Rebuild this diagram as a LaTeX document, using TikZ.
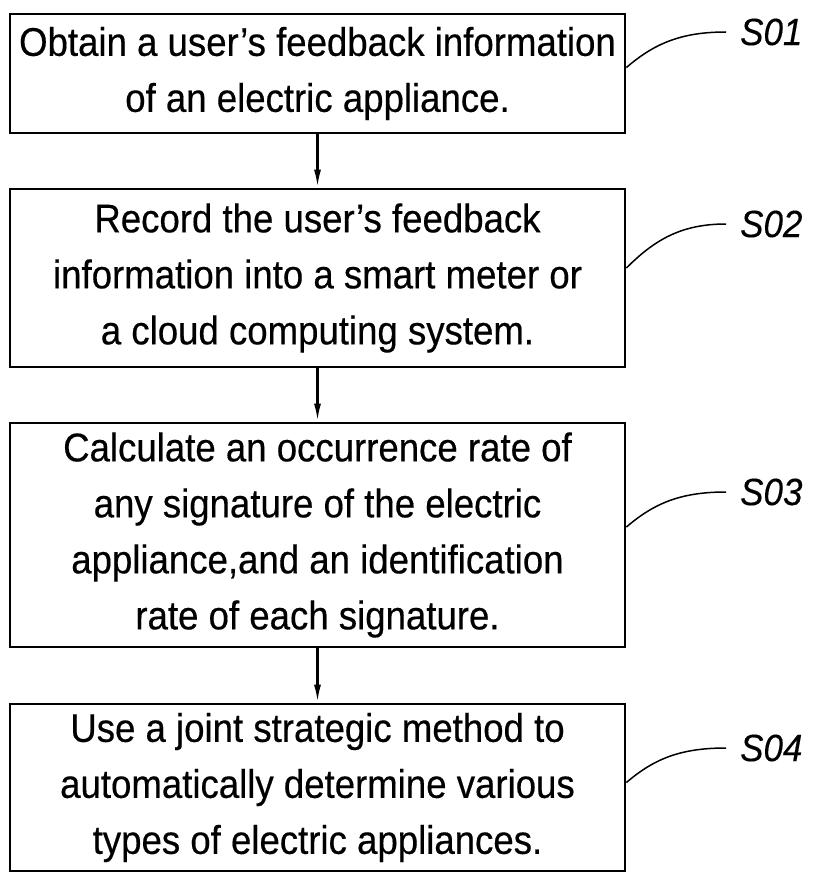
\documentclass[tikz,border=0pt]{standalone}
\usepackage{fontspec}
\setmainfont{Liberation Sans}[FakeStretch=0.915,FakeBold=0.4]
\newfontfamily\labfont{Liberation Sans}[FakeStretch=0.92,FakeBold=0.3]
\usetikzlibrary{arrows.meta,calc}
\begin{document}
\begin{tikzpicture}[x=1pt,y=-1pt,
  stepbox/.style={draw,line width=2.8pt,minimum width=615pt,align=center,inner sep=0pt,
    font=\fontsize{40}{56}\selectfont},
  flow/.style={line width=2.4pt,-{Latex[length=18pt,width=7pt]}},
  leader/.style={line width=1.5pt},
  steplab/.style={anchor=west,inner sep=0pt,font=\labfont\itshape\fontsize{38}{40}\selectfont}]
\useasboundingbox (0,0) rectangle (813,875);
\node[stepbox,minimum height=119pt] (b1) at (317.5,73.5) {Obtain a user's feedback information\\of an electric appliance.};
\node[stepbox,minimum height=178pt] (b2) at (317.5,278) {Record the user's feedback\\information into a smart meter or\\a cloud computing system.};
\node[stepbox,minimum height=224pt] (b3) at (317.5,535) {Calculate an occurrence rate of\\any signature of the electric\\appliance,and an identification\\rate of each signature.};
\node[stepbox,minimum height=167pt] (b4) at (317.5,787.5) {Use a joint strategic method to\\automatically determine various\\types of electric appliances.};
\draw[flow] (b1) -- (b2);
\draw[flow] (b2) -- (b3);
\draw[flow] (b3) -- (b4);
\node[steplab] (l1) at (740,32) {S01};
\node[steplab] (l2) at (740,224) {S02};
\node[steplab] (l3) at (740,492) {S03};
\node[steplab] (l4) at (740,748) {S04};
\draw[leader] ([yshift=6pt]b1.east) .. controls +(28pt,24pt) and +(-45pt,0pt) .. ([xshift=-14pt]l1.west);
\draw[leader] ([yshift=10pt]b2.east) .. controls +(28pt,28pt) and +(-45pt,0pt) .. ([xshift=-14pt]l2.west);
\draw[leader] ([yshift=8pt]b3.east) .. controls +(28pt,24pt) and +(-45pt,0pt) .. ([xshift=-14pt]l3.west);
\draw[leader] ([yshift=5pt]b4.east) .. controls +(28pt,24pt) and +(-45pt,0pt) .. ([xshift=-14pt]l4.west);
\end{tikzpicture}
\end{document}
